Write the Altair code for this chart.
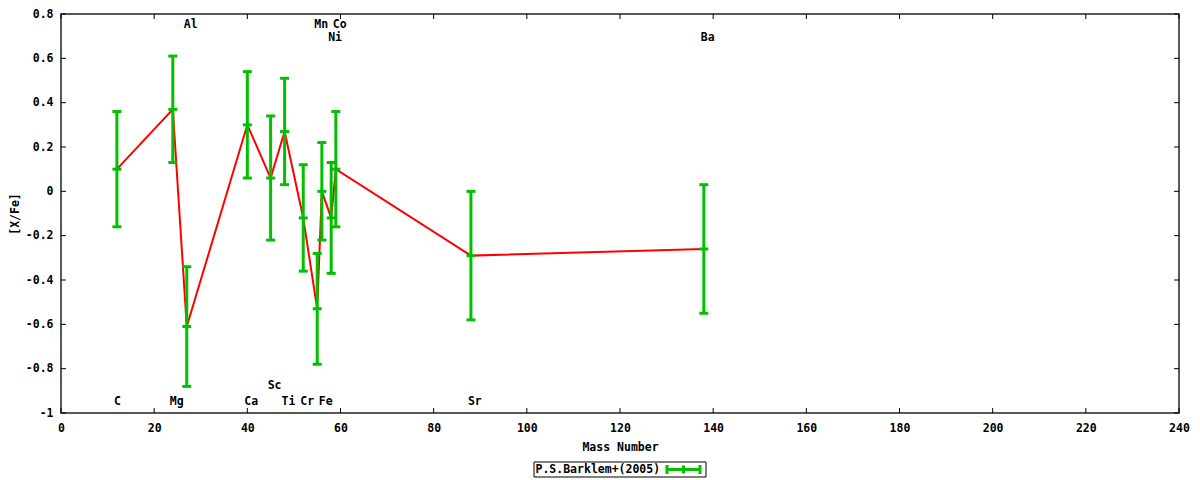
import altair as alt
import pandas as pd

# ---- data ----
elements = ["C", "Mg", "Al", "Ca", "Sc", "Ti", "Cr", "Mn", "Fe", "Ni", "Co", "Sr", "Ba"]
mass = [12, 24, 27, 40, 45, 48, 52, 55, 56, 58, 59, 88, 138]
xfe = [0.10, 0.37, -0.61, 0.30, 0.06, 0.27, -0.12, -0.53, 0.00, -0.12, 0.10, -0.29, -0.26]
err = [0.26, 0.24, 0.27, 0.24, 0.28, 0.24, 0.24, 0.25, 0.22, 0.25, 0.26, 0.29, 0.29]
# y (in [X/Fe] units) where each element name is written
label_y = [-0.95, -0.95, 0.75, -0.95, -0.88, -0.95, -0.95, 0.75, -0.95, 0.69, 0.75, -0.95, 0.69]

x_ticks = [0, 20, 40, 60, 80, 100, 120, 140, 160, 180, 200, 220, 240]
y_ticks = [-1.0, -0.8, -0.6, -0.4, -0.2, 0.0, 0.2, 0.4, 0.6, 0.8]
series_name = "P.S.Barklem+(2005)"
x_title = "Mass Number"
y_title = "[X/Fe]"

df = pd.DataFrame({"el": elements, "mass": mass, "xfe": xfe, "err": err, "ly": label_y})
df["lo"] = df["xfe"] - df["err"]
df["hi"] = df["xfe"] + df["err"]

W, H = 1118, 399
FONT = "DejaVu Sans Mono"
FS = 11.5
GREEN = "#00c000"
RED = "#ff0000"

xs = alt.Scale(domain=[0, 240], nice=False, zero=False)
ys = alt.Scale(domain=[-1, 0.8], nice=False, zero=False)

xaxis = alt.Axis(values=x_ticks, ticks=False, domain=False, grid=False,
                 labelPadding=9, labelFont=FONT, labelFontSize=FS, labelFontWeight="bold",
                 labelColor="black", title=x_title, titleFont=FONT, titleFontSize=FS,
                 titleFontWeight="bold", titleColor="black", titlePadding=8,
                 labelFlush=False, labelOverlap=False)
yaxis = alt.Axis(values=y_ticks, ticks=False, domain=False, grid=False,
                 labelPadding=8, labelFont=FONT, labelFontSize=FS, labelFontWeight="bold",
                 labelColor="black",
                 labelExpr="datum.value < -0.0001 ? '-' + format(-datum.value, '~g') : format(abs(datum.value) < 0.0001 ? 0 : datum.value, '~g')",
                 title=y_title, titleFont=FONT, titleFontSize=FS, titleFontWeight="bold",
                 titleColor="black", titlePadding=5, labelFlush=False, labelOverlap=False)


def X(f):
    return alt.X(f, type="quantitative", scale=xs, axis=xaxis)


def Y(f):
    return alt.Y(f, type="quantitative", scale=ys, axis=yaxis)


base = alt.Chart(df)

line = base.mark_line(color=RED, strokeWidth=2).encode(x=X("mass"), y=Y("xfe"))
bars = base.mark_rule(color=GREEN, strokeWidth=3).encode(x=X("mass"), y=Y("lo"), y2="hi")
tick_kw = dict(color=GREEN, orient="horizontal", size=9, thickness=3, opacity=1)
cap_lo = base.mark_tick(**tick_kw).encode(x=X("mass"), y=Y("lo"))
cap_hi = base.mark_tick(**tick_kw).encode(x=X("mass"), y=Y("hi"))
cap_mid = base.mark_tick(**tick_kw).encode(x=X("mass"), y=Y("xfe"))

labels = base.mark_text(align="left", baseline="middle", dx=-3, font=FONT, fontSize=FS,
                        fontWeight="bold", color="black").encode(x=X("mass"), y=Y("ly"), text="el")

# inward tick marks on all four sides
xt = alt.Chart(pd.DataFrame({"t": x_ticks}))
yt = alt.Chart(pd.DataFrame({"v": y_ticks}))
rk = dict(color="black", strokeWidth=1)
xt_bot = xt.mark_rule(**rk).encode(x=X("t"), y=alt.value(H), y2=alt.value(H - 5))
xt_top = xt.mark_rule(**rk).encode(x=X("t"), y=alt.value(0), y2=alt.value(5))
yt_left = yt.mark_rule(**rk).encode(y=Y("v"), x=alt.value(0), x2=alt.value(5))
yt_right = yt.mark_rule(**rk).encode(y=Y("v"), x=alt.value(W - 5), x2=alt.value(W))

# legend box (gnuplot style: key text then the error-bar sample)
leg = alt.Chart(pd.DataFrame({"name": [series_name]}))
LX0, LX1, LY0, LY1 = 473, 645, 448, 463
LYM = (LY0 + LY1) / 2
leg_box = leg.mark_rect(fill="white", stroke="black", strokeWidth=1).encode(
    x=alt.value(LX0), x2=alt.value(LX1), y=alt.value(LY0), y2=alt.value(LY1))
leg_text = leg.mark_text(align="left", baseline="middle", font=FONT, fontSize=FS,
                         fontWeight="bold", color="black").encode(
    x=alt.value(LX0 + 1.5), y=alt.value(LYM + 0.5), text="name")
SX0, SX1 = 605, 640
leg_line = leg.mark_rule(color=GREEN, strokeWidth=3).encode(
    x=alt.value(SX0), x2=alt.value(SX1), y=alt.value(LYM))
leg_c1 = leg.mark_rule(color=GREEN, strokeWidth=3).encode(
    x=alt.value(SX0 + 1), y=alt.value(LYM - 4.5), y2=alt.value(LYM + 4.5))
leg_c2 = leg.mark_rule(color=GREEN, strokeWidth=3).encode(
    x=alt.value(SX1 - 1), y=alt.value(LYM - 4.5), y2=alt.value(LYM + 4.5))
leg_c3 = leg.mark_rule(color=GREEN, strokeWidth=3).encode(
    x=alt.value((SX0 + SX1) / 2), y=alt.value(LYM - 4), y2=alt.value(LYM + 4))

chart = alt.layer(
    line, bars, cap_lo, cap_hi, cap_mid, labels,
    xt_bot, xt_top, yt_left, yt_right,
    leg_box, leg_text, leg_line, leg_c1, leg_c2, leg_c3,
).properties(
    width=W, height=H,
    autosize=alt.AutoSizeParams(type="none"),
    padding={"left": 53, "top": 6, "right": 13, "bottom": 67},
    background="white",
).configure_view(stroke="#222222", strokeWidth=1.5)

chart.save("out.html", embed_options={"renderer": "svg", "actions": False})
